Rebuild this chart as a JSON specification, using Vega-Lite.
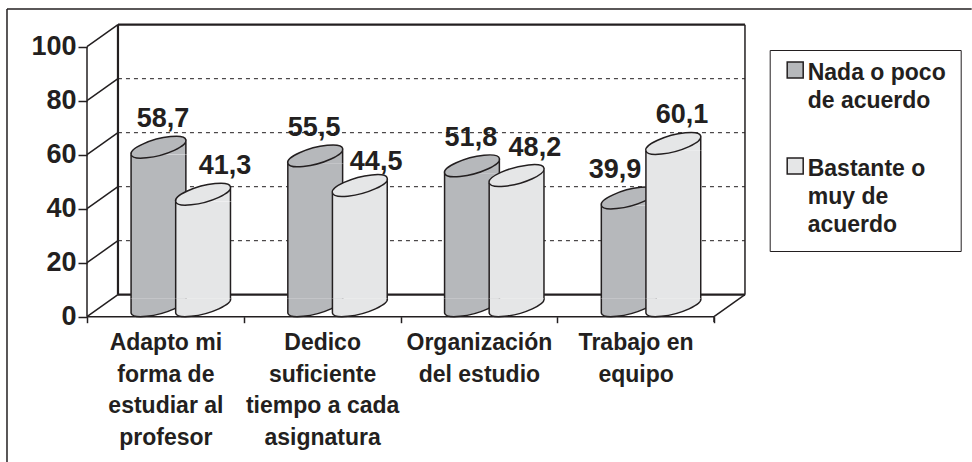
{"$schema":"https://vega.github.io/schema/vega-lite/v6.json","width":965,"height":453,"padding":{"left":7,"top":9,"right":0,"bottom":0},"autosize":"none","background":"white",
"config":{"view":{"stroke":null},"locale":{"number":{"decimal":",","thousands":".","grouping":[3],"currency":["","€"]}},"font":"Liberation Sans"},
"datasets":{"c":[
{"cat":"Adapto mi|forma de|estudiar al|profesor","serie":"Nada o poco|de acuerdo","valor":58.7},
{"cat":"Adapto mi|forma de|estudiar al|profesor","serie":"Bastante o|muy de|acuerdo","valor":41.3},
{"cat":"Dedico|suficiente|tiempo a cada|asignatura","serie":"Nada o poco|de acuerdo","valor":55.5},
{"cat":"Dedico|suficiente|tiempo a cada|asignatura","serie":"Bastante o|muy de|acuerdo","valor":44.5},
{"cat":"Organización|del estudio","serie":"Nada o poco|de acuerdo","valor":51.8},
{"cat":"Organización|del estudio","serie":"Bastante o|muy de|acuerdo","valor":48.2},
{"cat":"Trabajo en|equipo","serie":"Nada o poco|de acuerdo","valor":39.9},
{"cat":"Trabajo en|equipo","serie":"Bastante o|muy de|acuerdo","valor":60.1}]},
"layer":[
{"data":{"values":[{"a":-12.76,"b":141.1,"p":113.96,"q":113.96,"k":"t"},{"a":-12.76,"b":-12.76,"p":113.96,"q":-53.8,"k":"t"},{"a":0,"b":0,"p":0,"q":100,"k":"t"},{"a":0,"b":100,"p":0,"q":0,"k":"t"},{"a":100,"b":100,"p":0,"q":-2,"k":"t"},
{"a":0,"b":4.94,"p":0,"q":8.15,"k":"t"},{"a":0,"b":4.94,"p":20,"q":28.15,"k":"t"},{"a":0,"b":4.94,"p":40,"q":48.15,"k":"t"},{"a":0,"b":4.94,"p":60,"q":68.15,"k":"t"},{"a":0,"b":4.94,"p":80,"q":88.15,"k":"t"},{"a":0,"b":4.94,"p":100,"q":108.15,"k":"t"},
{"a":100,"b":104.94,"p":0,"q":8.15,"k":"t"},{"a":104.94,"b":104.94,"p":8.15,"q":108.15,"k":"t"},
{"a":4.94,"b":4.94,"p":8.15,"q":108.15,"k":"h"},{"a":4.94,"b":104.94,"p":108.15,"q":108.15,"k":"h"},{"a":4.94,"b":104.94,"p":8.15,"q":8.15,"k":"h"}]},
"layer":[
{"transform":[{"filter":"datum.k=='t'"}],"mark":{"type":"rule","color":"#231f20","strokeWidth":1.5},"encoding":{"x":{"field":"a","type":"quantitative","scale":{"domain":[0,100],"range":[80,707]},"axis":null},"x2":{"field":"b"},"y":{"field":"p","type":"quantitative","scale":{"domain":[0,100],"range":[307.7,37.7],"nice":false},"title":null,"axis":{"offset":-80,"domain":false,"grid":false,"values":[0,20,40,60,80,100],"tickSize":9,"tickColor":"#231f20","tickWidth":1.5,"labelFontSize":27,"labelFontWeight":"bold","labelColor":"#231f20","labelPadding":2,"format":"d"}},"y2":{"field":"q"}}},
{"transform":[{"filter":"datum.k=='h'"}],"mark":{"type":"rule","color":"#231f20","strokeWidth":2.2},"encoding":{"x":{"field":"a","type":"quantitative"},"x2":{"field":"b"},"y":{"field":"p","type":"quantitative"},"y2":{"field":"q"}}},
{"data":{"values":[{"a":4.94,"b":104.94,"p":28.15},{"a":4.94,"b":104.94,"p":48.15},{"a":4.94,"b":104.94,"p":68.15},{"a":4.94,"b":104.94,"p":88.15}]},"mark":{"type":"rule","color":"#231f20","strokeWidth":1,"strokeDash":[4,4]},"encoding":{"x":{"field":"a","type":"quantitative"},"x2":{"field":"b"},"y":{"field":"p","type":"quantitative"}}}
]},
{"data":{"name":"c"},"encoding":{"x":{"field":"cat","type":"nominal","sort":null,"scale":{"domain":["Adapto mi|forma de|estudiar al|profesor","Dedico|suficiente|tiempo a cada|asignatura","Organización|del estudio","Trabajo en|equipo"],"range":[80,707],"paddingInner":0,"paddingOuter":0},"title":null,"axis":{"orient":"bottom","offset":-145.3,"domain":false,"tickBand":"extent","tickSize":6,"tickColor":"#231f20","tickWidth":1.5,"labelAngle":0,"labelFontSize":23,"labelFontWeight":"bold","labelColor":"#231f20","labelLineHeight":31.5,"labelPadding":9,"labelBaseline":"top","labelOverlap":false,"labelExpr":"split(datum.label,'|')"}},"y":{"field":"valor","type":"quantitative"}},
"layer":[
{"transform":[{"filter":"datum.serie=='Nada o poco|de acuerdo'"}],"layer":[
{"mark":{"type":"point","filled":true,"opacity":1,"fill":"#b6b8bb","stroke":"#231f20","strokeWidth":1.5,"size":3003,"xOffset":-6.9,"yOffset":-11,"shape":"M-1,-.27 L-1,.27 A1.036,.295 -15.1 1 0 1,-.27"},"encoding":{"y":{"datum":0}}},
{"mark":{"type":"bar","size":55,"xOffset":-6.9,"yOffset":-3.5,"y2Offset":-18.5},"encoding":{"y2":{"datum":0},"fill":{"field":"serie","type":"nominal","scale":{"domain":["Nada o poco|de acuerdo","Bastante o|muy de|acuerdo"],"range":["#b6b8bb","#e5e6e7"]},"title":null,"legend":{"orient":"none","legendX":762.7,"legendY":41,"labelFontSize":23,"labelFontWeight":"bold","labelColor":"#231f20","labelLimit":300,"labelBaseline":"top","labelExpr":"split(datum.label,'|')","symbolType":"square","symbolSize":256,"symbolStrokeColor":"#231f20","symbolStrokeWidth":1.5,"strokeColor":"#231f20","fillColor":"white","padding":14,"rowPadding":42,"encoding":{"labels":{"lineHeight":{"value":28},"dy":{"value":-13.5},"dx":{"value":-3}},"symbols":{"y":{"value":6}}}}}}},
{"mark":{"type":"rule","color":"#231f20","strokeWidth":1.5,"xOffset":-34.3,"yOffset":-3.5,"y2Offset":-18.5},"encoding":{"y2":{"datum":0}}},
{"mark":{"type":"rule","color":"#231f20","strokeWidth":1.5,"xOffset":20.5,"yOffset":-3.5,"y2Offset":-18.5},"encoding":{"y2":{"datum":0}}},
{"mark":{"type":"point","filled":true,"opacity":1,"fill":"#b6b8bb","stroke":"#231f20","strokeWidth":1.5,"size":3003,"xOffset":-6.9,"yOffset":-11,"shape":"M-1,.27 A1.036,.295 -15.1 1 1 1,-.27 L1,.27 M-1,.27 A1.036,.295 -15.1 1 1 1,-.27 A1.036,.295 -15.1 1 1 -1,.27 Z"}}
]},
{"transform":[{"filter":"datum.serie=='Bastante o|muy de|acuerdo'"}],"layer":[
{"mark":{"type":"point","filled":true,"opacity":1,"fill":"#e5e6e7","stroke":"#231f20","strokeWidth":1.5,"size":3003,"xOffset":37.7,"yOffset":-11,"shape":"M-1,-.27 L-1,.27 A1.036,.295 -15.1 1 0 1,-.27"},"encoding":{"y":{"datum":0}}},
{"mark":{"type":"bar","size":55,"xOffset":37.7,"yOffset":-3.5,"y2Offset":-18.5},"encoding":{"y2":{"datum":0},"fill":{"field":"serie","type":"nominal"}}},
{"mark":{"type":"rule","color":"#231f20","strokeWidth":1.5,"xOffset":10.3,"yOffset":-3.5,"y2Offset":-18.5},"encoding":{"y2":{"datum":0}}},
{"mark":{"type":"rule","color":"#231f20","strokeWidth":1.5,"xOffset":65.1,"yOffset":-3.5,"y2Offset":-18.5},"encoding":{"y2":{"datum":0}}},
{"mark":{"type":"point","filled":true,"opacity":1,"fill":"#e5e6e7","stroke":"#231f20","strokeWidth":1.5,"size":3003,"xOffset":37.7,"yOffset":-11,"shape":"M-1,.27 A1.036,.295 -15.1 1 1 1,-.27 L1,.27 M-1,.27 A1.036,.295 -15.1 1 1 1,-.27 A1.036,.295 -15.1 1 1 -1,.27 Z"}}
]},
{"transform":[{"filter":"datum.valor==58.7"}],"mark":{"type":"text","fontSize":27,"fontWeight":"bold","color":"#231f20","dx":-2.4,"dy":-39},"encoding":{"text":{"field":"valor","type":"quantitative","format":".1f"}}},
{"transform":[{"filter":"datum.valor==41.3"}],"mark":{"type":"text","fontSize":27,"fontWeight":"bold","color":"#231f20","dx":59.6,"dy":-39},"encoding":{"text":{"field":"valor","type":"quantitative","format":".1f"}}},
{"transform":[{"filter":"datum.valor==55.5"}],"mark":{"type":"text","fontSize":27,"fontWeight":"bold","color":"#231f20","dx":-8,"dy":-39},"encoding":{"text":{"field":"valor","type":"quantitative","format":".1f"}}},
{"transform":[{"filter":"datum.valor==44.5"}],"mark":{"type":"text","fontSize":27,"fontWeight":"bold","color":"#231f20","dx":54,"dy":-35},"encoding":{"text":{"field":"valor","type":"quantitative","format":".1f"}}},
{"transform":[{"filter":"datum.valor==51.8"}],"mark":{"type":"text","fontSize":27,"fontWeight":"bold","color":"#231f20","dx":-8,"dy":-39},"encoding":{"text":{"field":"valor","type":"quantitative","format":".1f"}}},
{"transform":[{"filter":"datum.valor==48.2"}],"mark":{"type":"text","fontSize":27,"fontWeight":"bold","color":"#231f20","dx":56,"dy":-39},"encoding":{"text":{"field":"valor","type":"quantitative","format":".1f"}}},
{"transform":[{"filter":"datum.valor==39.9"}],"mark":{"type":"text","fontSize":27,"fontWeight":"bold","color":"#231f20","dx":-20.6,"dy":-39},"encoding":{"text":{"field":"valor","type":"quantitative","format":".1f"}}},
{"transform":[{"filter":"datum.valor==60.1"}],"mark":{"type":"text","fontSize":27,"fontWeight":"bold","color":"#231f20","dx":46.4,"dy":-39},"encoding":{"text":{"field":"valor","type":"quantitative","format":".1f"}}}
]}
],
"resolve":{"scale":{"x":"independent"},"axis":{"x":"independent"}}}
